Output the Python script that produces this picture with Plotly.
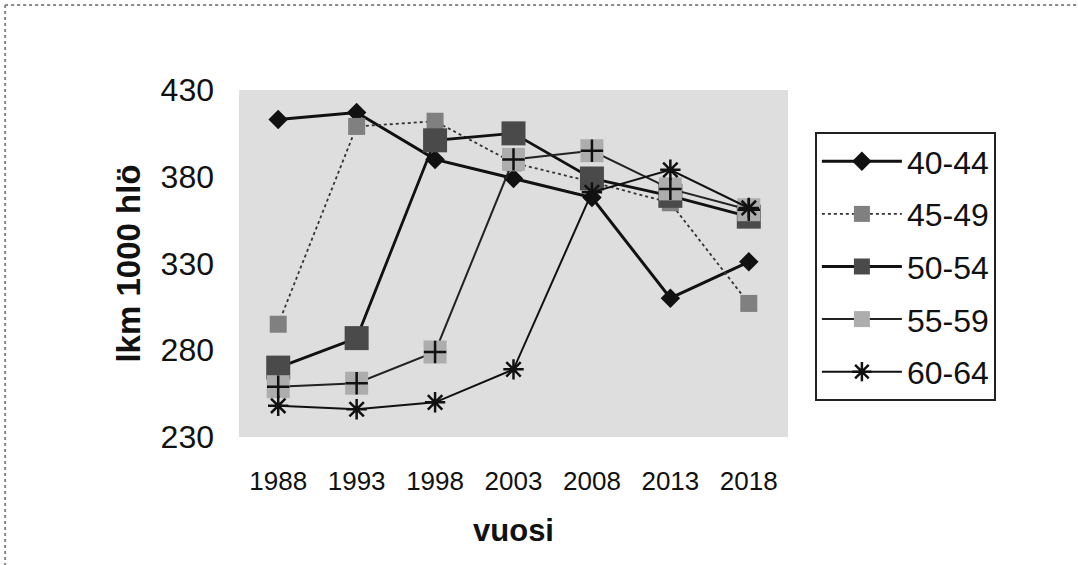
import plotly.graph_objects as go

# data
years = ["1988", "1993", "1998", "2003", "2008", "2013", "2018"]
a40_44 = [413, 417, 390, 379, 368, 310, 331]
a45_49 = [295, 409, 412, 388, 377, 365, 307]
a50_54 = [270, 287, 401, 405, 379, 369, 357]
a55_59 = [259, 261, 279, 390, 395, 373, 361]
a60_64 = [248, 246, 250, 269, 371, 384, 362]

FONT = "Liberation Sans, Arial, sans-serif"

fig = go.Figure()

fig.add_trace(go.Scatter(
    x=years, y=a40_44, name="40-44", mode="lines+markers", legendgroup="a",
    line=dict(color="#111", width=3),
    marker=dict(symbol="diamond", size=15, color="#111"),
))
fig.add_trace(go.Scatter(
    x=years, y=a45_49, name="45-49", mode="lines+markers", legendgroup="b",
    line=dict(color="#333", width=1.8, dash="dot"),
    marker=dict(symbol="square", size=17, color="#808080"),
))
fig.add_trace(go.Scatter(
    x=years, y=a50_54, name="50-54", mode="lines+markers", legendgroup="c",
    line=dict(color="#111", width=2.8),
    marker=dict(symbol="square", size=24, color="#4a4a4a"),
))
fig.add_trace(go.Scatter(
    x=years, y=a55_59, name="55-59", mode="lines+markers", legendgroup="d",
    line=dict(color="#222", width=2),
    marker=dict(symbol="square", size=23, color="#adadad"),
))
# the plus drawn on top of the light squares
fig.add_trace(go.Scatter(
    x=years, y=a55_59, mode="markers", legendgroup="d", showlegend=False,
    marker=dict(symbol="cross-thin", size=16, line=dict(color="#111", width=2.5)),
    hoverinfo="skip",
))
fig.add_trace(go.Scatter(
    x=years, y=a60_64, name="60-64", mode="lines+markers", legendgroup="e",
    line=dict(color="#111", width=2),
    marker=dict(symbol="asterisk-open", size=17, line=dict(color="#111", width=2.5)),
))

# dotted frame along the top and left of the page
fig.add_shape(type="line", xref="paper", yref="paper", x0=-0.426, x1=1.6, y0=1.245, y1=1.245,
              line=dict(color="#888", width=2, dash="dot"))
fig.add_shape(type="line", xref="paper", yref="paper", x0=-0.426, x1=-0.426, y0=1.245, y1=-0.4,
              line=dict(color="#888", width=2, dash="dot"))

fig.update_xaxes(
    type="category", range=[-0.5, 6.5], showgrid=False, zeroline=False, showline=False,
    tickfont=dict(size=26, color="#111"), ticklabelstandoff=26,
    title=dict(text="<b>vuosi</b>", font=dict(size=31, color="#111"), standoff=24),
)
fig.update_yaxes(
    range=[230, 430], tickvals=[230, 280, 330, 380, 430], showgrid=False, zeroline=False,
    showline=False, tickfont=dict(size=32, color="#111"), ticklabelstandoff=24,
    title=dict(text="<b>lkm 1000 hlö</b>", font=dict(size=33, color="#111"), standoff=10),
)

fig.update_layout(
    width=1078, height=565,
    margin=dict(l=239, r=290, t=90, b=128, autoexpand=False),
    paper_bgcolor="white", plot_bgcolor="#dedede",
    font=dict(family=FONT, color="#111"),
    showlegend=True,
    legend=dict(
        x=1.049, y=0.879, xanchor="left", yanchor="top",
        font=dict(size=32, color="#111"), bgcolor="white",
        bordercolor="#222", borderwidth=2, tracegroupgap=8, itemwidth=80,
    ),
)

fig.write_html("out.html", config={"displayModeBar": False},
               post_script="document.body.style.margin='0';")
